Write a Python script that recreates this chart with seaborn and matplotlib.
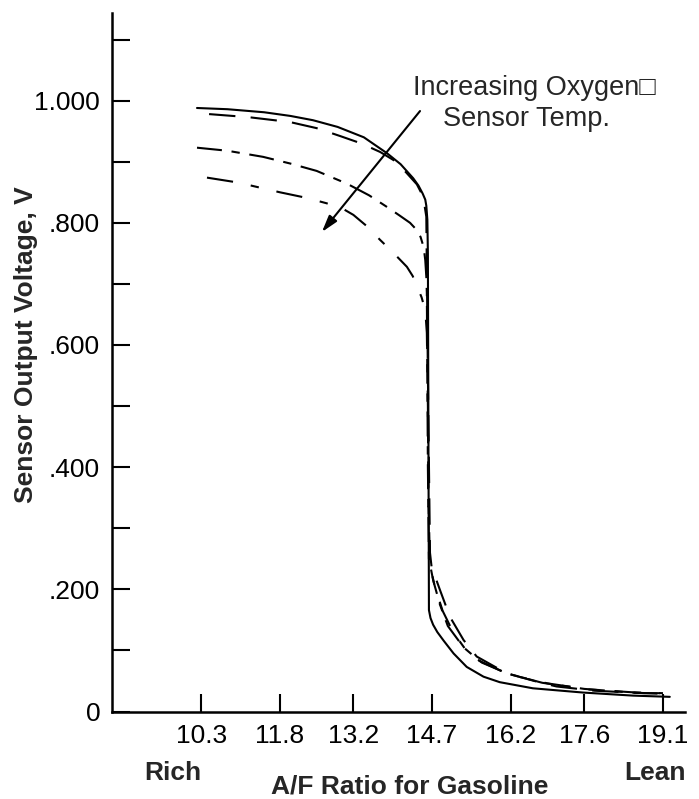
import pandas as pd
import matplotlib
matplotlib.use("Agg")
import matplotlib.pyplot as plt
import seaborn as sns

# Valores (A/F ratio x tensao do sensor)
x_solid = [10.22, 10.8, 11.5, 12.0, 12.43, 12.9, 13.4, 13.84, 14.1, 14.34, 14.44, 14.52,
           14.57, 14.59, 14.61, 14.62, 14.64, 14.67, 14.72, 14.80, 14.92, 15.11, 15.36,
           15.68, 15.99, 16.62, 17.58, 18.53, 19.23]
y_solid = [0.988, 0.986, 0.981, 0.975, 0.968, 0.957, 0.940, 0.914, 0.896, 0.873, 0.861, 0.848,
           0.838, 0.828, 0.805, 0.750, 0.166, 0.153, 0.142, 0.130, 0.116, 0.095, 0.073,
           0.057, 0.048, 0.038, 0.031, 0.026, 0.024]

x_dash = [10.45, 11.2, 11.99, 12.5, 12.95, 13.35, 13.71, 13.96, 14.2, 14.41, 14.53, 14.59,
          14.62, 14.66, 14.69, 14.85, 15.04, 15.30, 15.55, 16.12, 16.69, 17.07, 17.8,
          18.74, 19.23]
y_dash = [0.978, 0.973, 0.965, 0.955, 0.942, 0.930, 0.916, 0.903, 0.883, 0.863, 0.843, 0.810,
          0.550, 0.260, 0.237, 0.199, 0.155, 0.117, 0.090, 0.0625, 0.049, 0.041, 0.034,
          0.030, 0.030]

x_dash2 = [10.22, 10.8, 11.48, 12.0, 12.5, 13.08, 13.5, 13.84, 14.08, 14.28, 14.40, 14.48,
           14.54, 14.57, 14.59, 14.60, 14.62, 14.64, 14.72, 14.85, 15.0, 15.3, 15.6, 16.1,
           16.8, 17.6, 18.5, 19.1]
y_dash2 = [0.923, 0.918, 0.908, 0.897, 0.885, 0.864, 0.845, 0.826, 0.812, 0.800, 0.789, 0.777,
           0.760, 0.739, 0.712, 0.685, 0.400, 0.250, 0.215, 0.175, 0.140, 0.105, 0.083, 0.063,
           0.047, 0.037, 0.031, 0.029]

x_dashdot = [10.41, 11.0, 11.8, 12.3, 12.69, 13.0, 13.2, 13.45, 13.71, 13.95, 14.22, 14.33,
             14.41, 14.50, 14.57, 14.60, 14.62, 14.63, 14.66, 14.75, 14.9, 15.1, 15.35,
             15.65, 16.2, 16.9, 17.7, 18.6, 19.1]
y_dashdot = [0.874, 0.866, 0.850, 0.841, 0.832, 0.823, 0.813, 0.795, 0.772, 0.752, 0.728, 0.713,
             0.697, 0.678, 0.657, 0.620, 0.500, 0.350, 0.240, 0.205, 0.165, 0.130, 0.100,
             0.080, 0.060, 0.046, 0.036, 0.031, 0.030]

x_ticks = [10.3, 11.8, 13.2, 14.7, 16.2, 17.6, 19.1]
x_tick_labels = ["10.3", "11.8", "13.2", "14.7", "16.2", "17.6", "19.1"]
y_ticks = [0, 0.2, 0.4, 0.6, 0.8, 1.0]
y_tick_labels = ["0", ".200", ".400", ".600", ".800", "1.000"]
y_minor = [0.1, 0.3, 0.5, 0.7, 0.9, 1.1]

# Montar tabela longa para o seaborn
frames = []
for name, xs, ys in [("c1", x_solid, y_solid), ("c2", x_dash, y_dash),
                     ("c3", x_dash2, y_dash2), ("c4", x_dashdot, y_dashdot)]:
    frames.append(pd.DataFrame({"af": xs, "volt": ys, "curve": name}))
data = pd.concat(frames, ignore_index=True)

sns.set_style("ticks")
plt.rcParams["font.family"] = ["Liberation Sans", "DejaVu Sans"]
plt.rcParams["lines.scale_dashes"] = False

fig = plt.figure(figsize=(6.99, 7.99), dpi=100)
ax = fig.add_axes([112 / 699, (799 - 711.5) / 799, (685 - 112) / 699, (711.5 - 12.7) / 799])

sns.lineplot(data=data, x="af", y="volt", style="curve", units="curve",
             dashes={"c1": "", "c2": (19, 11), "c3": (18, 7, 6, 7), "c4": (19, 13, 6, 13)},
             color="black", linewidth=1.5, sort=False, estimator=None, legend=False, ax=ax)

ax.set_xlim(8.6, 19.52)
ax.set_ylim(0, 1.144)

# Eixos
for side in ["top", "right"]:
    ax.spines[side].set_visible(False)
for side in ["left", "bottom"]:
    ax.spines[side].set_linewidth(1.8)
    ax.spines[side].set_color("black")

ax.set_xticks(x_ticks)
ax.set_xticklabels(x_tick_labels)
ax.set_yticks(y_ticks)
ax.set_yticklabels(y_tick_labels)
ax.set_yticks(y_minor, minor=True)
ax.tick_params(axis="both", which="both", direction="in", length=13, width=1.5,
               color="black", labelsize=19, labelcolor="black")
ax.tick_params(axis="x", pad=9)
ax.tick_params(axis="y", pad=8.5)
ax.set_xlabel("")
ax.set_ylabel("")

# Rotulos
fig.text(410 / 699, 5 / 799, "A/F Ratio for Gasoline", ha="center", va="baseline",
         fontsize=19, fontweight="bold")
fig.text(173 / 699, (799 - 780) / 799, "Rich", ha="center", va="baseline",
         fontsize=19, fontweight="bold")
fig.text(655 / 699, (799 - 780) / 799, "Lean", ha="center", va="baseline",
         fontsize=19, fontweight="bold")
fig.text(33 / 699, (799 - 345) / 799, "Sensor Output Voltage, V", ha="center", va="baseline",
         rotation=90, rotation_mode="anchor", fontsize=19, fontweight="bold")

# Anotacao
ax.text(14.34, 1.009, "Increasing Oxygen\u25a1", ha="left", va="baseline", fontsize=19.5)
ax.text(14.91, 0.958, "Sensor Temp.", ha="left", va="baseline", fontsize=19.5)
ax.annotate("", xy=(12.60, 0.785), xytext=(14.47, 0.983),
            arrowprops=dict(arrowstyle="-|>,head_length=0.5,head_width=0.15", color="black",
                            lw=1.5, shrinkA=0, shrinkB=0, mutation_scale=20))

fig.savefig("out.png", dpi=100)
plt.close()
